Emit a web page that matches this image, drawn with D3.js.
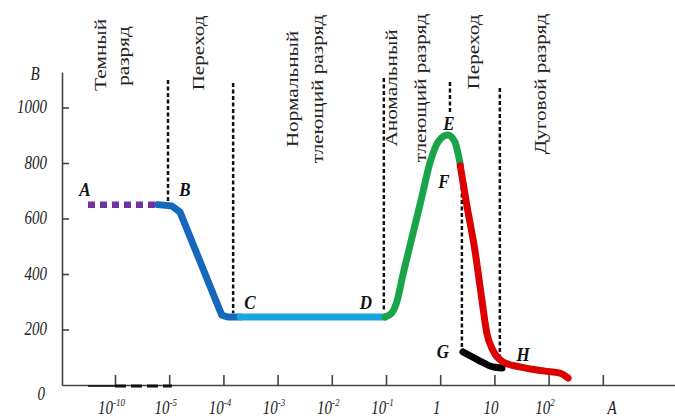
<!DOCTYPE html>
<html>
<head>
<meta charset="utf-8">
<script src="https://cdn.jsdelivr.net/npm/d3@7"></script>
<style>
  body { margin: 0; background: #fff; }
  svg { display: block; }
</style>
</head>
<body>
<div id="chart"></div>
<script>
// x values are log10 of the current (A), y values are voltage (V)
const xTickValues = [-10, -5, -4, -3, -2, -1, 0, 1, 2, 3];
const xTickBase = ["10", "10", "10", "10", "10", "10", "1", "10", "10", ""];
const xTickSup = ["-10", "-5", "-4", "-3", "-2", "-1", "", "", "2", ""];
const yTickValues = [0, 200, 400, 600, 800, 1000];

const darkPart = [[-12.5, 650], [-6.0, 650]];
const fallBC = [[-6.03, 650], [-4.95, 645], [-4.8, 623], [-4.03, 252], [-3.92, 245], [-3.69, 245]];
const normalCD = [[-3.69, 245], [-1.02, 245]];
const abnormalDEF = [[-1.02, 245], [-0.9, 258], [-0.8, 300], [-0.69, 395], [-0.5, 548], [-0.34, 677],
  [-0.19, 800], [-0.04, 876], [0.14, 901], [0.27, 876], [0.37, 795]];
const transitionFH = [[0.37, 790], [0.49, 649], [0.64, 486], [0.77, 306], [0.86, 187], [0.97, 126],
  [1.16, 83], [1.47, 65], [1.93, 50], [2.21, 43], [2.36, 25]];
const arcGH = [[0.42, 119], [0.7, 90], [0.97, 65], [1.14, 61]];

// dashed boundaries: [logI, Vtop, Vbottom]
const boundaries = [[-5.11, 1099, 659], [-3.82, 1088, 259], [-1.04, 1106, 270],
  [0.18, 1092, 984], [0.4, 714, 137], [1.1, 1070, 101]];

const pointNames = ["A", "B", "C", "D", "E", "F", "G", "H"];
const pointAt = [[-12.77, 703], [-4.71, 703], [-3.51, 295], [-1.37, 295], [0.16, 941], [0.07, 732], [0.05, 119], [1.53, 108]];

const regionText = [
  "Темный", "разряд", "Переход", "Нормальный", "тлеющий разряд",
  "Аномальный", "тлеющий разряд", "Переход", "Дуговой разряд"
];

const W = 675, H = 419;
const svg = d3.select("#chart").append("svg")
  .attr("width", W)
  .attr("height", H);

const serif = "'Liberation Serif', 'Times New Roman', serif";

// scales: uneven decades on the current axis
const xPix = d3.range(xTickValues.length).map(i => 115 + i * 54.2);
const x = d3.scaleLinear()
  .domain([-14.9, ...xTickValues, 4.33])
  .range([62, ...xPix, 675]);

const y = d3.scaleLinear()
  .domain([0, 1128])
  .range([385, 72]);

// axes
const xAxis = svg.append("g")
  .attr("transform", `translate(0,${y(0)})`)
  .call(d3.axisBottom(x).tickValues(xTickValues).tickSizeInner(-10).tickSizeOuter(0).tickFormat(() => ""));
xAxis.select(".domain").attr("stroke", "#444").attr("stroke-width", 1.6);
xAxis.selectAll(".tick line").attr("stroke", "#444").attr("stroke-width", 1.6);
xAxis.selectAll(".tick text").remove();
xAxis.selectAll(".tick").each(function(d, i) {
  if (!xTickBase[i]) return;
  const t = d3.select(this).append("text")
    .attr("transform", `translate(-4,29) scale(1,1.2)`)
    .attr("text-anchor", "middle")
    .attr("fill", "#222")
    .style("font-family", serif)
    .style("font-style", "italic")
    .style("font-size", "15px");
  t.append("tspan").text(xTickBase[i]);
  if (xTickSup[i]) {
    t.append("tspan")
      .attr("dy", -7)
      .style("font-size", "9px")
      .text(xTickSup[i]);
  }
});

const yAxis = svg.append("g")
  .attr("transform", `translate(${x(-14.9)},0)`)
  .call(d3.axisLeft(y).tickValues(yTickValues).tickSizeInner(-7).tickSizeOuter(0).tickFormat(d3.format("d")));
yAxis.select(".domain").attr("stroke", "#444").attr("stroke-width", 1.6);
yAxis.selectAll(".tick line").attr("stroke", "#444").attr("stroke-width", 1.6)
  .filter(d => d === 0).remove();
yAxis.selectAll(".tick text")
  .attr("x", null).attr("dy", null)
  .attr("transform", d => d === 0 ? "translate(-17,14) scale(1,1.2)" : "translate(-15,5) scale(1,1.2)")
  .attr("text-anchor", "end")
  .attr("fill", "#222")
  .style("font-family", serif)
  .style("font-style", "italic")
  .style("font-size", "15px");

// axis names
svg.append("text")
  .attr("transform", `translate(35,80) scale(1,1.2)`)
  .attr("text-anchor", "middle")
  .style("font-family", serif).style("font-style", "italic").style("font-size", "15px")
  .attr("fill", "#222")
  .text("B");
svg.append("text")
  .attr("transform", `translate(612,414) scale(1,1.2)`)
  .attr("text-anchor", "middle")
  .style("font-family", serif).style("font-style", "italic").style("font-size", "15px")
  .attr("fill", "#222")
  .text("A");

// pieces lying on the current axis at the dark discharge
svg.append("line")
  .attr("x1", x(-12.5)).attr("x2", x(-10))
  .attr("y1", y(0) + 1).attr("y2", y(0) + 1)
  .attr("stroke", "#111").attr("stroke-width", 1.6);
svg.append("line")
  .attr("x1", x(-10)).attr("x2", x(-4.95))
  .attr("y1", y(0) + 1).attr("y2", y(0) + 1)
  .attr("stroke", "#111").attr("stroke-width", 3)
  .attr("stroke-dasharray", "11,5");

// dashed boundaries between regions
svg.selectAll(".bound")
  .data(boundaries)
  .join("line")
  .attr("class", "bound")
  .attr("x1", d => x(d[0])).attr("x2", d => x(d[0]))
  .attr("y1", d => y(d[1])).attr("y2", d => y(d[2]))
  .attr("stroke", "#111")
  .attr("stroke-width", 2.5)
  .attr("stroke-dasharray", "4,2.5");

// region names, written upwards
const regionPos = [
  [106, 55], [129, 56], [204, 53], [298, 89], [323, 89],
  [397, 88], [426, 88], [479, 52], [546, 84]
];
regionText.forEach((label, i) => {
  svg.append("text")
    .attr("transform", `translate(${regionPos[i][0]},${regionPos[i][1]}) rotate(-90) scale(1.25,1)`)
    .attr("text-anchor", "middle")
    .attr("fill", "#222")
    .style("font-family", serif)
    .style("font-size", "17px")
    .text(label);
});

// curve
svg.append("path")
  .datum(darkPart)
  .attr("fill", "none")
  .attr("stroke", "#7030a0")
  .attr("stroke-width", 6.5)
  .attr("stroke-dasharray", "7,5")
  .attr("d", d3.line().x(d => x(d[0])).y(d => y(d[1])));

const pieces = [
  [fallBC, "#1569bd", d3.curveLinear],
  [normalCD, "#1ba3e0", d3.curveLinear],
  [abnormalDEF, "#19a449", d3.curveMonotoneX],
  [arcGH, "#000000", d3.curveMonotoneX],
  [transitionFH, "#dd0000", d3.curveMonotoneX]
];
pieces.forEach(([pts, color, curve]) => {
  svg.append("path")
    .datum(pts)
    .attr("fill", "none")
    .attr("stroke", color)
    .attr("stroke-width", 7)
    .attr("stroke-linecap", "round")
    .attr("stroke-linejoin", "round")
    .attr("d", d3.line().x(d => x(d[0])).y(d => y(d[1])).curve(curve));
});

// point letters
svg.selectAll(".pt")
  .data(pointNames)
  .join("text")
  .attr("class", "pt")
  .attr("transform", (d, i) => `translate(${x(pointAt[i][0])},${y(pointAt[i][1]) + 6}) scale(1,1.15)`)
  .attr("text-anchor", "middle")
  .attr("fill", "#111")
  .style("font-family", serif)
  .style("font-style", "italic")
  .style("font-weight", "bold")
  .style("font-size", "17px")
  .text(d => d);
</script>
</body>
</html>
